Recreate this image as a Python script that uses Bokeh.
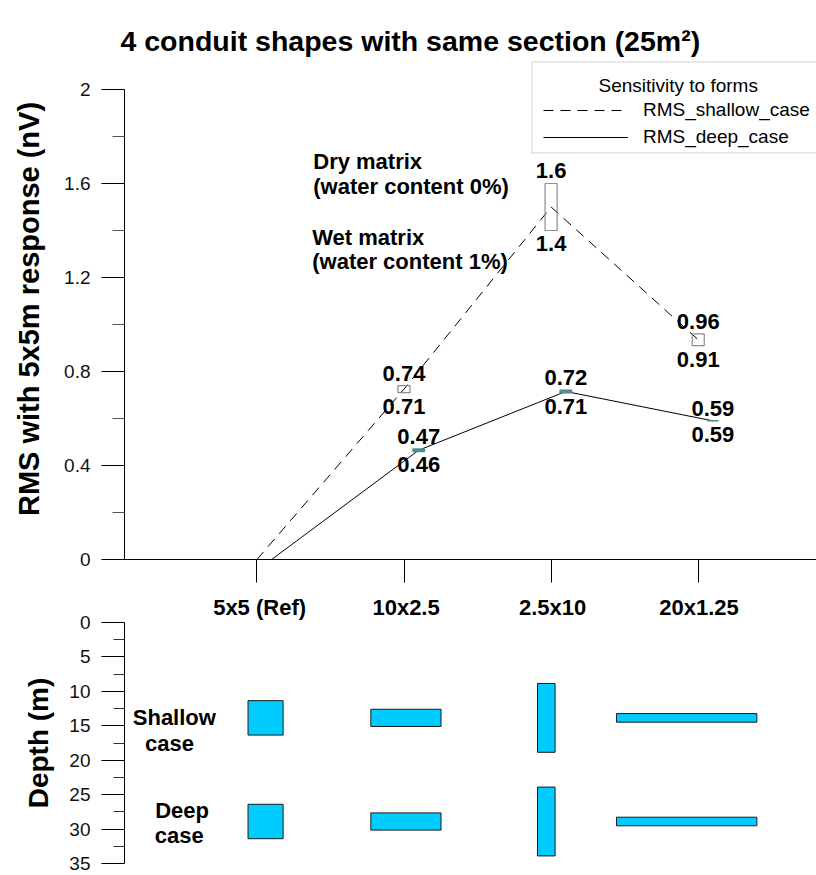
import numpy as np
from bokeh.plotting import figure
from bokeh.models import (Range1d, FixedTicker, LinearAxis, Legend, LegendItem, Label,
                          BoxAnnotation, ColumnDataSource)
from bokeh.layouts import column
from bokeh.embed import file_html
from bokeh.resources import INLINE
from bokeh.core.properties import value

FONT = "Liberation Sans"

# ---------------- data ----------------
categories = ["5x5 (Ref)", "10x2.5", "2.5x10", "20x1.25"]
shallow_dry = [0.0, 0.74, 1.6, 0.96]    # dry matrix (water content 0%)
shallow_wet = [0.0, 0.71, 1.4, 0.91]    # wet matrix (water content 1%)
deep_dry = [0.0, 0.47, 0.72, 0.59]
deep_wet = [0.0, 0.46, 0.71, 0.59]
y_ticks = [0, 0.4, 0.8, 1.2, 1.6, 2]
y_tick_labels = ["0", "0.4", "0.8", "1.2", "1.6", "2"]
y_minor = [0.2, 0.6, 1.0, 1.4, 1.8]

shape_width = [5, 10, 2.5, 20]          # m
shape_height = [5, 2.5, 10, 1.25]       # m
case_names = ["Shallow", "Deep"]
case_depth = [13.85, 28.9]              # depth of conduit centre (m)
depth_ticks = [0, 5, 10, 15, 20, 25, 30, 35]
depth_minor = [2.5, 7.5, 12.5, 17.5, 22.5, 27.5, 32.5]

# ---------------- top chart ----------------
idx = np.arange(len(categories))
deep_shift = 0.1
sh_dry = np.array(shallow_dry); sh_wet = np.array(shallow_wet)
dp_dry = np.array(deep_dry); dp_wet = np.array(deep_wet)

p = figure(width=816, height=585, x_range=Range1d(-0.9, 3.804), y_range=Range1d(0, 2.1319),
           output_backend="svg", toolbar_location=None,
           min_border_left=124, min_border_right=0, min_border_top=58, min_border_bottom=26)
p.xgrid.visible = False
p.ygrid.visible = False
p.outline_line_color = None
p.background_fill_alpha = 0
p.border_fill_alpha = 0

p.title.text = "4 conduit shapes with same section (25m\u00b2)"
p.title.text_font = FONT
p.title.text_font_size = "28.5px"
p.title.text_font_style = "bold"
p.title.text_color = "black"
p.title.align = "left"
p.title.offset = -4
p.title.standoff = 4

# y axis
ya = p.yaxis[0]
ya.ticker = FixedTicker(ticks=y_ticks, minor_ticks=y_minor)
ya.major_label_overrides = {t: l for t, l in zip(y_ticks, y_tick_labels)}
ya.bounds = (0, 2)
ya.axis_label = "RMS with 5x5m response (nV)"
ya.axis_label_text_font = FONT
ya.axis_label_text_font_size = "29px"
ya.axis_label_text_font_style = "bold"
ya.axis_label_text_color = "black"
ya.axis_label_standoff = 16
ya.major_label_text_font = FONT
ya.major_label_text_font_size = "19px"
ya.major_label_text_color = "#111111"
ya.major_label_standoff = 11
ya.major_tick_out = 23
ya.major_tick_in = 0
ya.minor_tick_out = 12
ya.minor_tick_in = 0
ya.minor_tick_line_color = "#555555"
ya.axis_line_color = "black"

# x axis (ticks only; its category labels sit just below, in the lower panel)
xa = p.xaxis[0]
xa.ticker = FixedTicker(ticks=list(idx), minor_ticks=[])
xa.major_label_overrides = {int(i): "" for i in idx}
xa.major_label_text_font_size = "0px"
xa.major_label_standoff = 0
xa.major_tick_out = 23
xa.major_tick_in = 0
xa.axis_line_color = "black"

# lines
r_sh = p.line(idx, (sh_dry + sh_wet) / 2, line_color="black", line_width=1, line_dash="10 7")
r_dp = p.line(idx + deep_shift, (dp_dry + dp_wet) / 2, line_color="black", line_width=1)

# range markers (dry / wet) for the non-reference shapes
sel = idx[1:]
p.vbar(x=sel, top=sh_dry[1:], bottom=sh_wet[1:], width=0.082,
       fill_color=None, line_color="#8c8c8c", line_width=1.2)
p.vbar(x=sel + deep_shift, top=dp_dry[1:], bottom=dp_wet[1:], width=0.078,
       fill_color="#4f8c8c", line_color="#4f8c8c", line_width=1.5)

lab_kw = dict(text_font=value(FONT), text_font_size="22px", text_font_style="bold",
              text_color="black", text_align="center", text_baseline="middle")
fmt = lambda arr: [f"{v:g}" for v in arr]
p.text(x=sel, y=sh_dry[1:], text=fmt(sh_dry[1:]), y_offset=-12.5, **lab_kw)
p.text(x=sel, y=sh_wet[1:], text=fmt(sh_wet[1:]), y_offset=13.5, **lab_kw)
p.text(x=sel + deep_shift, y=dp_dry[1:], text=fmt(dp_dry[1:]), y_offset=-12.5, **lab_kw)
p.text(x=sel + deep_shift, y=dp_wet[1:], text=fmt(dp_wet[1:]), y_offset=13.5, **lab_kw)

ann_kw = dict(text_font=FONT, text_font_size="22px", text_font_style="bold",
              text_color="black", text_align="left", text_baseline="middle")
p.add_layout(Label(x=0.383, y=1.6915, text="Dry matrix", **ann_kw))
p.add_layout(Label(x=0.383, y=1.5851, text="(water content 0%)", **ann_kw))
p.add_layout(Label(x=0.376, y=1.3694, text="Wet matrix", **ann_kw))
p.add_layout(Label(x=0.376, y=1.2660, text="(water content 1%)", **ann_kw))

# legend
legend = Legend(items=[LegendItem(label="RMS_shallow_case", renderers=[r_sh]),
                       LegendItem(label="RMS_deep_case", renderers=[r_dp])],
                location=(419, 411), glyph_width=85, glyph_height=22, label_height=22,
                label_standoff=15, spacing=5, padding=0, margin=0,
                border_line_color=None, background_fill_alpha=0,
                label_text_font=FONT, label_text_font_size="19px", label_text_color="black")
p.add_layout(legend)
p.add_layout(BoxAnnotation(left=1.8695, right=6, top=2.1174, bottom=1.730,
                           fill_alpha=0, line_color="#6e6e6e", line_width=1))
p.add_layout(Label(x=2.864, y=2.017, text="Sensitivity to forms", text_font=FONT,
                   text_font_size="19px", text_align="center", text_baseline="middle",
                   text_color="black"))

# ---------------- bottom panel (conduit geometry) ----------------
p2 = figure(width=816, height=290, x_range=Range1d(-0.1, 98.5), y_range=Range1d(35, 0),
            x_axis_location=None, output_backend="svg", toolbar_location=None,
            min_border_left=121, min_border_right=0, min_border_top=37, min_border_bottom=12)
p2.xgrid.visible = False
p2.ygrid.visible = False
p2.outline_line_color = None
p2.background_fill_alpha = 0
p2.border_fill_alpha = 0

p2.extra_x_ranges = {"cat": Range1d(-0.9225, 3.8022)}
cat_axis = LinearAxis(x_range_name="cat", ticker=FixedTicker(ticks=list(idx), minor_ticks=[]),
                      major_label_overrides={int(i): c for i, c in zip(idx, categories)},
                      axis_line_color=None, major_tick_line_color=None, minor_tick_line_color=None,
                      major_label_text_font=FONT, major_label_text_font_size="22px",
                      major_label_text_font_style="bold", major_label_text_color="black",
                      major_label_standoff=-3)
p2.add_layout(cat_axis, "above")

da = p2.yaxis[0]
da.ticker = FixedTicker(ticks=depth_ticks, minor_ticks=depth_minor)
da.axis_label = "Depth (m)"
da.axis_label_text_font = FONT
da.axis_label_text_font_size = "28px"
da.axis_label_text_font_style = "bold"
da.axis_label_text_color = "black"
da.axis_label_standoff = 12
da.major_label_text_font = FONT
da.major_label_text_font_size = "19px"
da.major_label_text_color = "#111111"
da.major_label_standoff = 11
da.major_tick_out = 23
da.major_tick_in = 0
da.minor_tick_out = 11
da.minor_tick_in = 0
da.minor_tick_line_color = "#333333"
da.axis_line_color = "black"

centers = 20.0 * (idx + 1)
src = ColumnDataSource(dict(
    x=np.tile(centers, len(case_depth)),
    y=np.repeat(case_depth, len(categories)),
    w=np.tile(shape_width, len(case_depth)),
    h=np.tile(shape_height, len(case_depth)),
))
p2.rect(x="x", y="y", width="w", height="h", source=src,
        fill_color="#00ccff", line_color="#1a1a1a", line_width=1)

cl_kw = dict(text_font=FONT, text_font_size="22px", text_font_style="bold",
             text_color="black", text_align="center", text_baseline="middle")
p2.add_layout(Label(x=7.0, y=13.76, text=case_names[0], **cl_kw))
p2.add_layout(Label(x=6.3, y=17.6, text="case", **cl_kw))
p2.add_layout(Label(x=8.1, y=27.3, text=case_names[1], **cl_kw))
p2.add_layout(Label(x=7.7, y=30.9, text="case", **cl_kw))

layout = column(p, p2, spacing=0)
open("out.html", "w").write(file_html(layout, INLINE, title="conduit shapes"))
